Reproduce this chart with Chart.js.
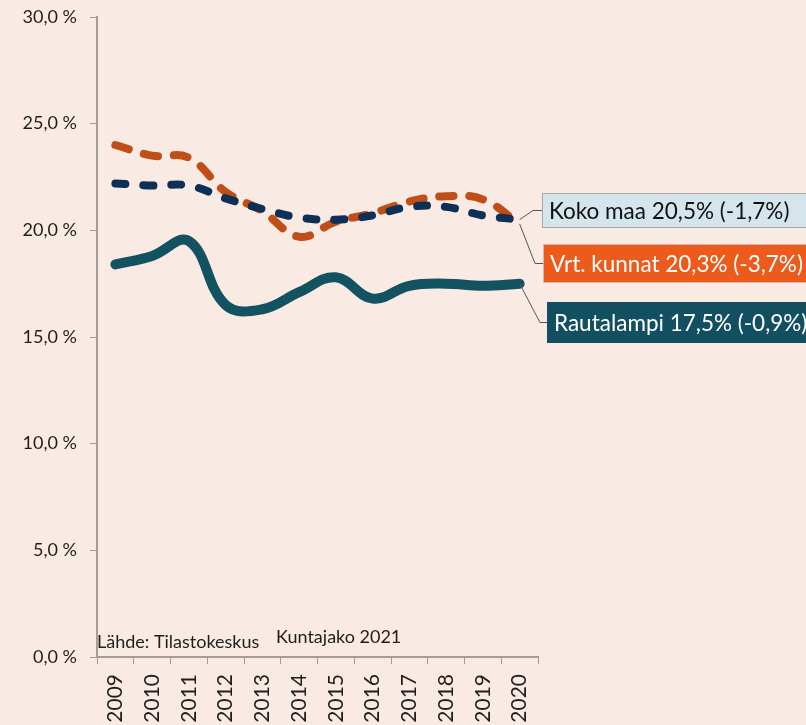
<!DOCTYPE html>
<html>
<head>
<meta charset="utf-8">
<script src="https://cdn.jsdelivr.net/npm/chart.js@4.4.1/dist/chart.umd.min.js"></script>
<style>
  html, body { margin: 0; padding: 0; background: #f9ebe4; }
  #wrap { width: 806px; height: 725px; }
</style>
</head>
<body>
<div id="wrap"><canvas id="chart" width="806" height="725"></canvas></div>
<script>
// Datos del gráfico
const years = ['2009', '2010', '2011', '2012', '2013', '2014', '2015', '2016', '2017', '2018', '2019', '2020'];
const rautalampi = [18.4, 18.8, 19.5, 16.5, 16.3, 17.1, 17.8, 16.8, 17.4, 17.5, 17.4, 17.5];
const kokoMaa = [22.2, 22.1, 22.1, 21.5, 21.0, 20.6, 20.5, 20.7, 21.1, 21.1, 20.7, 20.5];
const vrtKunnat = [24.0, 23.5, 23.4, 21.8, 20.9, 19.7, 20.4, 20.8, 21.35, 21.6, 21.45, 20.3];
const endLabels = ['Koko maa 20,5% (-1,7%)', 'Vrt. kunnat 20,3% (-3,7%)', 'Rautalampi 17,5% (-0,9%)'];
const yTicks = [0, 5, 10, 15, 20, 25, 30];

const FONT = 'Lato';
const AXIS_COLOR = '#a39d9a';
const TEXT_COLOR = '#1e1e1e';

// Fondo del lienzo
const bgPlugin = {
  id: 'bg',
  beforeDraw(chart) {
    const ctx = chart.ctx;
    ctx.save();
    ctx.fillStyle = '#f9ebe4';
    ctx.fillRect(0, 0, chart.width, chart.height);
    ctx.restore();
  }
};

// Etiquetas al final de las líneas y textos de fuente
const labelPlugin = {
  id: 'endLabels',
  afterDraw(chart) {
    const ctx = chart.ctx;
    const boxes = [
      { ds: 0, top: 193, h: 35, left: 542, fill: '#d4e5ec', stroke: '#a9a9a9', text: '#111111', elbowX: 533 },
      { ds: 1, top: 244, h: 39, left: 543, fill: '#ec5b1b', stroke: '#d8b8a8', text: '#ffffff', elbowX: 535 },
      { ds: 2, top: 302, h: 41, left: 547, fill: '#124f60', stroke: '#124f60', text: '#ffffff', elbowX: 540 }
    ];
    ctx.save();
    boxes.forEach((b, i) => {
      const meta = chart.getDatasetMeta(b.ds);
      const pt = meta.data[meta.data.length - 1];
      const cy = b.top + b.h / 2;
      // línea guía
      ctx.strokeStyle = '#555555';
      ctx.lineWidth = 1;
      ctx.beginPath();
      ctx.moveTo(pt.x, pt.y);
      ctx.lineTo(b.elbowX, cy);
      ctx.lineTo(b.left, cy);
      ctx.stroke();
      // caja
      ctx.fillStyle = b.fill;
      ctx.fillRect(b.left, b.top, 300, b.h);
      ctx.strokeStyle = b.stroke;
      ctx.strokeRect(b.left + 0.5, b.top + 0.5, 300, b.h - 1);
      ctx.fillStyle = b.text;
      ctx.font = '22.5px ' + FONT;
      ctx.textBaseline = 'middle';
      ctx.textAlign = 'left';
      ctx.fillText(endLabels[i], b.left + 7, cy + 1);
    });
    ctx.fillStyle = TEXT_COLOR;
    ctx.font = '18px ' + FONT;
    ctx.textBaseline = 'alphabetic';
    ctx.fillText('Lähde: Tilastokeskus', 97, 648);
    ctx.fillText('Kuntajako 2021', 276, 643);
    ctx.restore();
  }
};

const ctx = document.getElementById('chart').getContext('2d');
new Chart(ctx, {
  type: 'line',
  data: {
    labels: years,
    datasets: [
      {
        label: 'Koko maa',
        data: kokoMaa,
        borderColor: '#0e2f56',
        borderWidth: 8,
        borderDash: [10, 18],
        borderCapStyle: 'round',
        tension: 0.4,
        pointRadius: 0,
        order: 0
      },
      {
        label: 'Vrt. kunnat',
        data: vrtKunnat,
        borderColor: '#c04e17',
        borderWidth: 8,
        borderDash: [14, 16],
        borderCapStyle: 'round',
        tension: 0.4,
        pointRadius: 0,
        order: 1
      },
      {
        label: 'Rautalampi',
        data: rautalampi,
        borderColor: '#125261',
        borderWidth: 10,
        borderCapStyle: 'round',
        borderJoinStyle: 'round',
        tension: 0.4,
        pointRadius: 0,
        order: 2
      }
    ]
  },
  options: {
    responsive: false,
    animation: false,
    layout: { padding: { top: 17, right: 268, left: 0, bottom: 0 } },
    plugins: {
      legend: { display: false },
      tooltip: { enabled: false }
    },
    scales: {
      x: {
        offset: true,
        grid: {
          offset: true,
          drawOnChartArea: false,
          drawTicks: true,
          tickLength: 7,
          color: AXIS_COLOR
        },
        border: { display: true, color: AXIS_COLOR, width: 2 },
        ticks: {
          minRotation: 90,
          maxRotation: 90,
          padding: 10,
          color: TEXT_COLOR,
          font: { family: FONT, size: 21 }
        },
        afterFit(scale) {
          scale.height = 68;
          scale.paddingLeft = 0;
          scale.paddingRight = 0;
        }
      },
      y: {
        min: 0,
        max: 30,
        afterBuildTicks(scale) { scale.ticks = yTicks.map(v => ({ value: v })); },
        grid: {
          drawOnChartArea: false,
          drawTicks: true,
          tickLength: 7,
          color: AXIS_COLOR
        },
        border: { display: true, color: AXIS_COLOR, width: 2 },
        ticks: {
          padding: 13,
          color: TEXT_COLOR,
          font: { family: FONT, size: 18 },
          callback: (v) => v.toFixed(1).replace('.', ',') + ' %'
        },
        afterFit(scale) {
          scale.width = 97;
          scale.paddingTop = 0;
          scale.paddingBottom = 0;
        }
      }
    }
  },
  plugins: [bgPlugin, labelPlugin]
});
</script>
</body>
</html>
